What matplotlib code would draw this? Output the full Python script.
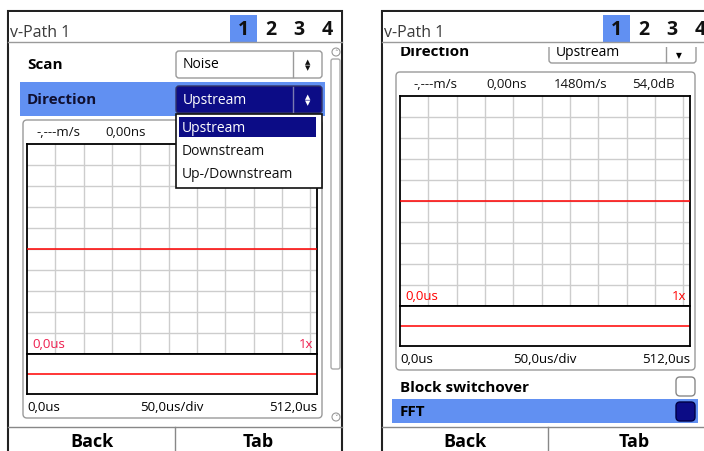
import matplotlib
matplotlib.use("Agg")
import matplotlib.pyplot as plt
from matplotlib.patches import Rectangle, FancyBboxPatch, Circle
import numpy as np

plt.rcParams["font.family"] = ["Open Sans", "DejaVu Sans"]

W, H = 704, 452

# screen data
tabs = ["1", "2", "3", "4"]
span_us = 512.0
div_us = 50.0
y_divs = 10
trace_t = [0.0, 512.0]
trace_v = [0.0, 0.0]
strip_t = [0.0, 512.0]
strip_v = [0.0, 0.0]
info_left = ["-,---m/s", "0,00ns"]
info_right = ["-,---m/s", "0,00ns", "1480m/s", "54,0dB"]
axis_labels = ["0,0us", "50,0us/div", "512,0us"]
marker_labels = ["0,0us", "1x"]
scan_value = "Noise"
direction_value = "Upstream"
direction_items = ["Upstream", "Downstream", "Up-/Downstream"]
buttons = ["Back", "Tab"]

BLUE = "#6190f2"
NAVY = "#0c0c86"
GRID = "#cdcdcd"
RED = "#ff0000"
EDGE = "#9a9a9a"


def rbox(ax, x0, y0, x1, y1, fc="white", ec=EDGE, lw=1.0, r=3, z=2):
    p = FancyBboxPatch((x0, y0), x1 - x0, y1 - y0,
                       boxstyle=f"round,pad=0,rounding_size={r}",
                       fc=fc, ec=ec, lw=lw, zorder=z)
    ax.add_patch(p)
    return p


def spinner(ax, x, y, color):
    ax.text(x, y - 3.2, "▲", fontsize=5, color=color, ha="center", va="center", family="DejaVu Sans", zorder=5)
    ax.text(x, y + 3.2, "▼", fontsize=5, color=color, ha="center", va="center", family="DejaVu Sans", zorder=5)


def scope(x0, y0, info, info_x, lab_color):
    w, hm, hs = 290, 210, 40
    # frame around the scope
    rbox(bg, x0 - 4, y0 - 24, x0 + 295, y0 + hm + hs + 24, ec=EDGE, lw=1.0, r=4, z=1)
    for s, xc in zip(info, info_x):
        bg.text(x0 + xc, y0 - 12, s, fontsize=9.5, ha="center", va="center", color="#111111", zorder=3)

    ax = fig.add_axes([x0 / W, 1 - (y0 + hm) / H, w / W, hm / H])
    ax.set_xlim(0, span_us)
    ax.set_ylim(-y_divs / 2, y_divs / 2)
    ax.set_xticks(np.arange(div_us, span_us, div_us))
    ax.set_yticks(np.arange(-y_divs / 2 + 1, y_divs / 2))
    ax.grid(True, color=GRID, lw=1.0)
    ax.tick_params(length=0, labelbottom=False, labelleft=False)
    for s in ax.spines.values():
        s.set_linewidth(1.3)
    ax.plot(trace_t, trace_v, color=RED, lw=1.1, zorder=3)
    ax.text(0.018, 0.05, marker_labels[0], transform=ax.transAxes, color=lab_color,
            fontsize=9.5, ha="left", va="center")
    ax.text(0.987, 0.05, marker_labels[1], transform=ax.transAxes, color=lab_color,
            fontsize=9.5, ha="right", va="center")

    ax2 = fig.add_axes([x0 / W, 1 - (y0 + hm + hs) / H, w / W, hs / H])
    ax2.set_xlim(0, span_us)
    ax2.set_ylim(-1, 1)
    ax2.set_xticks([])
    ax2.set_yticks([])
    for s in ax2.spines.values():
        s.set_linewidth(1.3)
    ax2.plot(strip_t, strip_v, color=RED, lw=1.1)

    yb = y0 + hm + hs + 13
    bg.text(x0, yb, axis_labels[0], fontsize=9.5, ha="left", va="center", zorder=3)
    bg.text(x0 + w / 2, yb, axis_labels[1], fontsize=9.5, ha="center", va="center", zorder=3)
    bg.text(x0 + w, yb, axis_labels[2], fontsize=9.5, ha="right", va="center", zorder=3)
    return ax


def header(x0, x1, hl_x):
    # white band hides whatever scrolled up under the title bar
    bg.add_patch(Rectangle((x0 + 1, 13), x1 - x0 - 2, 35, fc="white", ec="none", zorder=2.5))
    bg.plot([x0, x1], [43, 43], color=EDGE, lw=1, zorder=3)
    bg.text(x0 + 2, 33, "v-Path 1", fontsize=11.5, color="#3a3a3a", ha="left", va="center", zorder=3)
    bg.add_patch(Rectangle((hl_x, 16), 27, 27, fc=BLUE, ec="none", zorder=2.8))
    for i, t in enumerate(tabs):
        bg.text(hl_x + 13.5 + 27.8 * i, 30, t, fontsize=14, fontweight="bold",
                ha="center", va="center", color="#111111", zorder=3)


def bottom_buttons(x0, x1, xdiv):
    bg.plot([x0, x1], [428, 428], color="#888888", lw=1, zorder=3)
    bg.plot([xdiv, xdiv], [428, 460], color="#888888", lw=1, zorder=3)
    bg.text((x0 + xdiv) / 2, 442, buttons[0], fontsize=13, fontweight="bold", ha="center", va="center", zorder=3)
    bg.text((xdiv + x1) / 2, 442, buttons[1], fontsize=13, fontweight="bold", ha="center", va="center", zorder=3)


fig = plt.figure(figsize=(W / 100, H / 100), dpi=100)
bg = fig.add_axes([0, 0, 1, 1])
bg.set_xlim(0, W)
bg.set_ylim(H, 0)
bg.axis("off")

# ---------------- left screen ----------------
bg.add_patch(Rectangle((8, 12), 334, 460, fc="white", ec="#222222", lw=1.5, zorder=0))
header(8, 342, 230)

bg.text(27, 65, "Scan", fontsize=11, fontweight="bold", ha="left", va="center", zorder=3)
rbox(bg, 176, 52, 322, 79, ec=EDGE)
bg.plot([293, 293], [53, 78], color=EDGE, lw=1, zorder=3)
bg.text(183, 65, scan_value, fontsize=10, ha="left", va="center", zorder=3)
spinner(bg, 308, 65, "#111111")

bg.add_patch(Rectangle((20, 83), 305, 34, fc=BLUE, ec="none", zorder=1))
bg.text(27, 100, "Direction", fontsize=11, fontweight="bold", ha="left", va="center", color="#101030", zorder=3)
rbox(bg, 176, 87, 322, 114, fc=NAVY, ec="#333366")
bg.plot([293, 293], [88, 113], color="#7a7ab0", lw=1, zorder=3)
bg.text(183, 100, direction_value, fontsize=10, ha="left", va="center", color="white", zorder=3)
spinner(bg, 308, 100, "white")

# scrollbar
bg.add_patch(Circle((336, 53), 4, fc="white", ec="#999999", lw=0.8, zorder=2.9))
bg.text(336, 53, "˄", fontsize=5, ha="center", va="center", color="#777777", family="DejaVu Sans", zorder=3)
rbox(bg, 331, 60, 340, 370, ec="#aaaaaa", lw=1, r=2)
bg.add_patch(Circle((336, 418), 4, fc="white", ec="#999999", lw=0.8, zorder=2))
bg.text(336, 418, "˅", fontsize=5, ha="center", va="center", color="#777777", family="DejaVu Sans", zorder=3)

scope(27, 145, info_left, [31, 99], "#ee1e4e")
bottom_buttons(8, 342, 175)

# dropdown list drawn on top of the scope
top = fig.add_axes([0, 0, 1, 1])
top.set_xlim(0, W)
top.set_ylim(H, 0)
top.axis("off")
top.add_patch(Rectangle((176, 115), 146, 74, fc="white", ec="#111111", lw=1.2, zorder=1))
top.add_patch(Rectangle((179, 118), 137, 20, fc=NAVY, ec="none", zorder=2))
for i, item in enumerate(direction_items):
    top.text(182, 128 + 23.5 * i, item, fontsize=10, ha="left", va="center",
             color="white" if i == 0 else "#111111", zorder=3)

# ---------------- right screen ----------------
bg.add_patch(Rectangle((382, 12), 340, 460, fc="white", ec="#222222", lw=1.5, zorder=0))

# row scrolled half under the title bar
bg.text(400, 55.5, "Direction", fontsize=11, fontweight="bold", ha="left", va="baseline", zorder=2)
rbox(bg, 549, 34, 696, 64, ec=EDGE)
bg.plot([666, 666], [34, 63], color=EDGE, lw=1, zorder=2)
bg.text(556, 55.5, direction_value, fontsize=10, ha="left", va="baseline", zorder=2)
bg.text(679, 56, "▼", fontsize=5.5, ha="center", va="center", family="DejaVu Sans", zorder=2)

header(382, 720, 603)
scope(400, 97, info_right, [35, 107, 181, 253], RED)

bg.text(400, 388, "Block switchover", fontsize=11, fontweight="bold", ha="left", va="center", zorder=3)
rbox(bg, 676, 378, 695, 397, ec="#888888", r=4)
bg.add_patch(Rectangle((392, 400), 306, 24, fc=BLUE, ec="none", zorder=1))
bg.text(400, 412, "FFT", fontsize=11, fontweight="bold", ha="left", va="center", zorder=3)
rbox(bg, 676, 403, 695, 422, fc=NAVY, ec="#000044", r=4)

bottom_buttons(382, 720, 548)

fig.savefig("out.png", dpi=100)
